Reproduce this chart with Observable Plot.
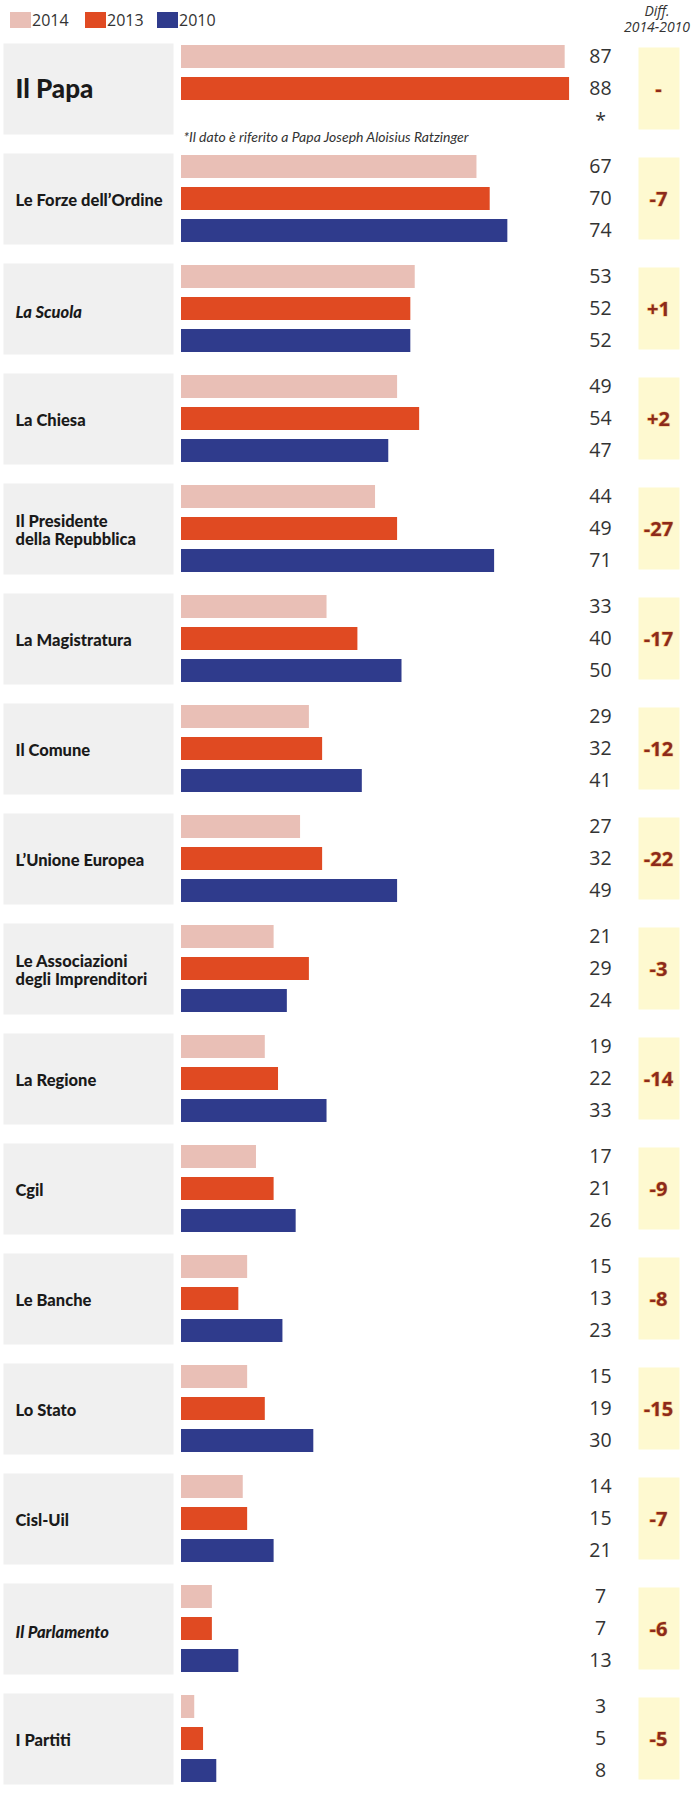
<!DOCTYPE html>
<html>
<head>
<meta charset="utf-8">
<script src="https://cdn.jsdelivr.net/npm/d3@7"></script>
<script src="https://cdn.jsdelivr.net/npm/@observablehq/plot@0.6"></script>
<style>
  html, body { margin: 0; padding: 0; background: #fff; }
  #wrap { position: relative; width: 695px; height: 1802px; overflow: hidden; }
  #chart svg { display: block; }
  .lg { position: absolute; font-family: "Open Sans", sans-serif; color: #333; }
  .sw { position: absolute; top: 12px; width: 21px; height: 16px; }
  .lt { position: absolute; top: 9px; font-size: 16px; line-height: 22px; }
  .dh { position: absolute; font-family: "Open Sans", sans-serif; font-style: italic; color: #333; font-size: 14px; text-align: center; width: 80px; left: 617px; line-height: 15px; }
  g[aria-label="group-label"] text { letter-spacing: -0.3px; }
</style>
</head>
<body>
<div id="wrap">
  <div id="chart"></div>
  <div id="legend"></div>
  <div class="dh" style="top:3px">Diff.</div>
  <div class="dh" style="top:19px">2014-2010</div>
</div>
<script>
// ---- data ----
const groups = [
  "Il Papa",
  "Le Forze dell’Ordine",
  "La Scuola",
  "La Chiesa",
  "Il Presidente\ndella Repubblica",
  "La Magistratura",
  "Il Comune",
  "L’Unione Europea",
  "Le Associazioni\ndegli Imprenditori",
  "La Regione",
  "Cgil",
  "Le Banche",
  "Lo Stato",
  "Cisl-Uil",
  "Il Parlamento",
  "I Partiti"
];
const years = ["2014", "2013", "2010"];
const v2014 = [87, 67, 53, 49, 44, 33, 29, 27, 21, 19, 17, 15, 15, 14, 7, 3];
const v2013 = [88, 70, 52, 54, 49, 40, 32, 32, 29, 22, 21, 13, 19, 15, 7, 5];
const v2010 = [null, 74, 52, 47, 71, 50, 41, 49, 24, 33, 26, 23, 30, 21, 13, 8];
const diffs = ["-", "-7", "+1", "+2", "-27", "-17", "-12", "-22", "-3", "-14", "-9", "-8", "-15", "-7", "-6", "-5"];
const footnote = "*Il dato è riferito a Papa Joseph Aloisius Ratzinger";

// ---- styles ----
const yearColors = ["#e9bfb6", "#e04a22", "#2f3b8c"];
const bigLabels = new Set(["Il Papa"]);
const italicLabels = new Set(["La Scuola", "Il Parlamento"]);

const series = [v2014, v2013, v2010];
const rows = groups.flatMap((g, i) => years.map((y, j) => ({group: g, year: y, value: series[j][i]})));
const diffRows = groups.map((g, i) => ({group: g, diff: diffs[i]}));

const labelFont = "Lato, 'Open Sans', sans-serif";

const plot = Plot.plot({
  width: 695,
  height: 1802,
  marginLeft: 0,
  marginRight: 0,
  marginTop: 33,
  marginBottom: 6,
  style: {fontFamily: "'Open Sans', sans-serif", background: "#fff"},
  x: {domain: [0, 100], range: [181, 622], axis: null},
  y: {domain: years, paddingInner: 0.273, paddingOuter: 0.136, axis: null},
  fy: {domain: groups, paddingInner: 0.1076, paddingOuter: 0, axis: null},
  color: {domain: years, range: yearColors},
  marks: [
    // grey label panels
    Plot.frame({fill: "#f0f0f0", stroke: null, insetLeft: 3, insetRight: 522, insetTop: 3, insetBottom: 4}),
    // yellow diff panels
    Plot.frame({fill: "#fef9d0", stroke: null, insetLeft: 638, insetRight: 16, insetTop: 7, insetBottom: 9}),
    // bars
    Plot.barX(rows, {x: "value", y: "year", fy: "group", fill: "year"}),
    // value labels
    Plot.text(rows, {
      y: "year", fy: "group",
      text: d => d.value ?? "*",
      frameAnchor: "left", dx: 600, textAnchor: "middle",
      fontSize: 19.5, fill: "#333"
    }),
    // diff labels
    Plot.text(diffRows, {
      fy: "group", text: "diff",
      frameAnchor: "left", dx: 658, textAnchor: "middle",
      fontSize: 20, fontWeight: "bold", fill: "#8c2a1c",
      stroke: "#f6c879", strokeWidth: 1.2, paintOrder: "stroke"
    }),
    // group labels (regular)
    Plot.text(groups.filter(g => !bigLabels.has(g) && !italicLabels.has(g)), {
      fy: d => d, text: d => d, ariaLabel: "group-label",
      frameAnchor: "left", dx: 15, dy: 1, textAnchor: "start", lineAnchor: "middle",
      fontFamily: labelFont, fontWeight: 900, fontSize: 16.5, lineHeight: 1.1, fill: "#1a1a1a"
    }),
    // group labels (italic)
    Plot.text(groups.filter(g => italicLabels.has(g)), {
      fy: d => d, text: d => d, ariaLabel: "group-label",
      frameAnchor: "left", dx: 15, dy: 3, textAnchor: "start", lineAnchor: "middle",
      fontFamily: labelFont, fontWeight: 900, fontStyle: "italic", fontSize: 16.5, fill: "#1a1a1a"
    }),
    // big label
    Plot.text(groups.filter(g => bigLabels.has(g)), {
      fy: d => d, text: d => d, ariaLabel: "group-label",
      frameAnchor: "left", dx: 15, dy: 0, textAnchor: "start", lineAnchor: "middle",
      fontFamily: labelFont, fontWeight: 900, fontSize: 26, fill: "#1a1a1a"
    }),
    // footnote
    Plot.text([footnote], {
      fy: [groups[0]], text: d => d,
      frameAnchor: "bottom-left", dx: 183, dy: -1, textAnchor: "start", lineAnchor: "middle",
      fontFamily: "Lato, sans-serif", fontStyle: "italic", fontSize: 14, fill: "#333"
    })
  ]
});
document.getElementById("chart").appendChild(plot);

// legend
const legend = document.getElementById("legend");
const swX = [10, 85, 157];
years.forEach((y, i) => {
  const sw = document.createElement("div");
  sw.className = "sw";
  sw.style.left = swX[i] + "px";
  sw.style.background = yearColors[i];
  legend.appendChild(sw);
  const t = document.createElement("div");
  t.className = "lg lt";
  t.style.left = (swX[i] + 22) + "px";
  t.textContent = y;
  legend.appendChild(t);
});
</script>
</body>
</html>
